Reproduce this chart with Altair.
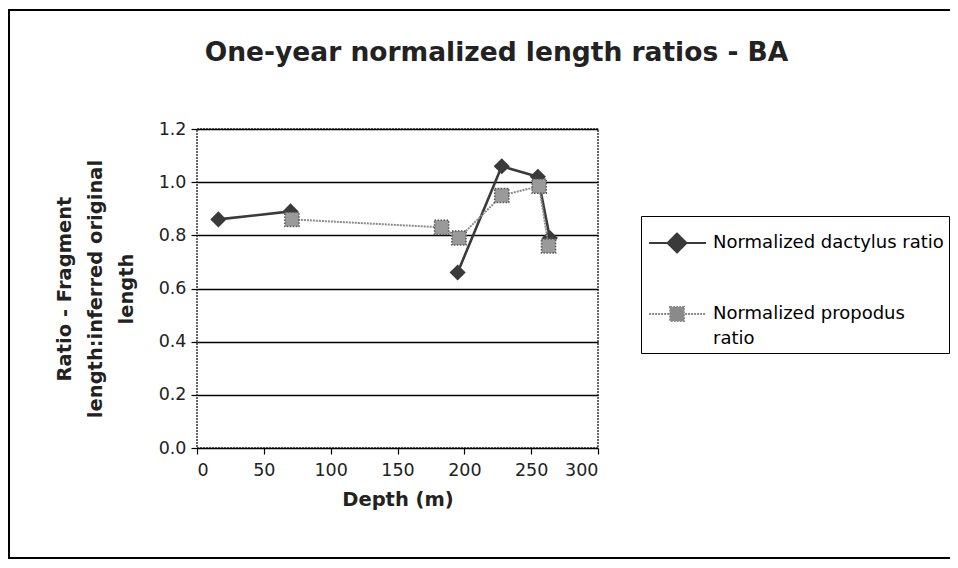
import altair as alt
import pandas as pd

dact_depth = [16, 70, 195, 228, 255, 264]
dact_ratio = [0.86, 0.89, 0.66, 1.06, 1.02, 0.79]
dact_seg = [0, 0, 1, 1, 1, 1]
prop_depth = [71, 183, 196, 228, 256, 263]
prop_ratio = [0.86, 0.83, 0.79, 0.95, 0.985, 0.76]
prop_seg = [0, 0, 0, 0, 0, 0]

S1 = "Normalized dactylus ratio"
S2 = "Normalized propodus ratio"

df = pd.DataFrame({
    "depth": dact_depth + prop_depth,
    "ratio": dact_ratio + prop_ratio,
    "series": [S1] * len(dact_depth) + [S2] * len(prop_depth),
    "seg": dact_seg + prop_seg,
    "order": list(range(len(dact_depth))) + list(range(len(prop_depth))),
})

FONT = "DejaVu Sans"
W, H = 401, 319

x = alt.X("depth:Q", scale=alt.Scale(domain=[0, 300], nice=False),
          axis=alt.Axis(values=[0, 50, 100, 150, 200, 250, 300], title="Depth (m)",
                        grid=False, tickSize=6, labelPadding=7, titlePadding=12))
y = alt.Y("ratio:Q", scale=alt.Scale(domain=[0, 1.2], nice=False),
          axis=alt.Axis(values=[0, 0.2, 0.4, 0.6, 0.8, 1.0, 1.2], format=".1f",
                        title=["Ratio - Fragment", "length:inferred original", "length"],
                        grid=True, tickSize=6, labelPadding=5, titlePadding=22))

DIAM = "M-0.9,0L1.81,0M0.43,-0.45L0.88,0L0.43,0.45L-0.02,0Z"
SQR = "M-0.9,0L1.81,0M0.1,-0.33L0.76,-0.33L0.76,0.33L0.1,0.33Z"

NB = "\u00a0" * 6
legend = alt.Legend(
    title=None, orient="none", legendX=444, legendY=87,
    strokeColor="black", padding=5, labelFont=FONT, labelFontSize=18,
    labelColor="black", labelLimit=600, symbolSize=1764, symbolStrokeWidth=2,
    symbolOpacity=1, rowPadding=35, labelOffset=23,
    labelExpr=f"datum.label == '{S2}' ? ['Normalized propodus', 'ratio'] : datum.label + '{NB}'",
)
dom = [S1, S2]

base = alt.Chart(df)

frame = base.mark_rect(fill=None, stroke="black", strokeWidth=1.5, clip=False).encode(
    x=alt.value(-188), x2=alt.value(W + 600), y=alt.value(-119), y2=alt.value(H + 110)
)

leg = base.mark_point(filled=True, opacity=0).encode(
    x=x, y=y,
    fill=alt.Fill("series:N", scale=alt.Scale(domain=dom, range=["#3a3a3a", "#8a8a8a"]), legend=legend),
    stroke=alt.Stroke("series:N", scale=alt.Scale(domain=dom, range=["#3a3a3a", "#8a8a8a"]), legend=legend),
    shape=alt.Shape("series:N", scale=alt.Scale(domain=dom, range=[DIAM, SQR]), legend=legend),
    strokeDash=alt.StrokeDash("series:N", scale=alt.Scale(domain=dom, range=[[1, 0], [2, 1]]), legend=legend),
)

d_line = base.transform_filter(alt.datum.series == S1).mark_line(
    strokeWidth=2.6, color="#3a3a3a").encode(x=x, y=y, detail="seg:N", order="order:Q")
d_pts = base.transform_filter(alt.datum.series == S1).mark_point(
    shape="diamond", size=260, filled=True, opacity=1, color="#3a3a3a").encode(x=x, y=y)

p_line = base.transform_filter(alt.datum.series == S2).mark_line(
    strokeWidth=2, color="#8a8a8a", strokeDash=[2, 1]).encode(x=x, y=y, detail="seg:N", order="order:Q")
p_pts = base.transform_filter(alt.datum.series == S2).mark_point(
    shape="square", size=200, filled=True, opacity=1, color="#9a9a9a",
    stroke="#555555", strokeWidth=1.5, strokeDash=[1.5, 1.5]).encode(x=x, y=y)

chart = alt.layer(frame, leg, d_line, d_pts, p_line, p_pts).properties(
    width=W, height=H,
    autosize=alt.AutoSizeParams(type="none"),
    padding={"left": 189, "top": 121, "right": 352, "bottom": 112},
    title=alt.TitleParams("One-year normalized length ratios - BA", font=FONT,
                          fontSize=26.5, fontWeight="bold", color="#222222",
                          anchor="middle", dx=99, offset=0, dy=78, baseline="alphabetic"),
).configure(
    style={"guide-label": {"lineHeight": 25}}
).configure_view(
    stroke="#666666", strokeWidth=2, strokeDash=[2, 1]
).configure_axis(
    labelFont=FONT, labelFontSize=17.5, labelColor="#222222",
    titleFont=FONT, titleFontSize=19.5, titleFontWeight="bold", titleColor="#222222",
    titleLineHeight=31,
    domain=False, tickColor="black", tickWidth=1.2,
    gridColor="black", gridWidth=1.3, gridOpacity=1,
)

chart.save("out.html", embed_options={"renderer": "svg", "actions": False})
